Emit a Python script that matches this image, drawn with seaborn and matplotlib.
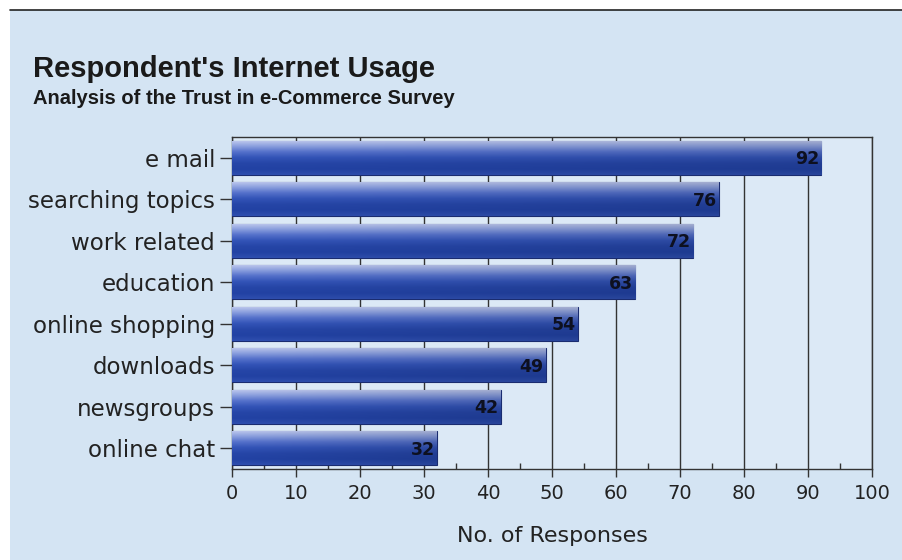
import numpy as np
import pandas as pd
import matplotlib
matplotlib.use("Agg")
import matplotlib.pyplot as plt
from matplotlib.colors import LinearSegmentedColormap
from matplotlib.patches import Rectangle
from matplotlib.lines import Line2D
import seaborn as sns

categories = ["e mail", "searching topics", "work related", "education",
              "online shopping", "downloads", "newsgroups", "online chat"]
responses = [92, 76, 72, 63, 54, 49, 42, 32]
x_ticks = [0, 10, 20, 30, 40, 50, 60, 70, 80, 90, 100]

df = pd.DataFrame({"usage": categories, "responses": responses})

sns.set_theme(style="white")
plt.rcParams["font.family"] = ["Liberation Sans", "DejaVu Sans"]

panel = "#d4e4f3"
fig = plt.figure(figsize=(9.02, 5.6), dpi=100, facecolor="white")
fig.patches.append(Rectangle((0.011, 0.0), 0.989, 0.982, transform=fig.transFigure,
                             facecolor=panel, edgecolor="none", zorder=-10))
fig.lines.append(Line2D([0.011, 1.0], [0.982, 0.982], transform=fig.transFigure,
                        color="#222222", lw=1.2))

ax = fig.add_axes([0.257, 0.1625, 0.710, 0.5925])
ax.set_facecolor("#dce9f6")

sns.barplot(data=df, y="usage", x="responses", orient="h", ax=ax,
            color="#2c4cb2", width=0.82, edgecolor="#1a2c70", linewidth=0.8,
            zorder=3)

ax.set_xlim(0, 100)
ax.set_xticks(x_ticks)
ax.set_xticks(np.arange(5, 100, 10), minor=True)
ax.grid(axis="x", which="major", color="#333333", lw=1.0, zorder=1)
ax.set_axisbelow(True)

# Shade each bar with a gradient clipped to its own rectangle
cmap = LinearSegmentedColormap.from_list(
    "barshade", ["#c4cdef", "#8ea2e0", "#5672cc", "#3354b8", "#2646a8", "#2242a4", "#2f4fb0"])
grad = np.linspace(0, 1, 256).reshape(-1, 1)
horiz = np.linspace(1.0, 0.88, 256).reshape(1, -1)
for bar in ax.patches:
    x0, y0 = bar.get_x(), bar.get_y()
    w, h = bar.get_width(), bar.get_height()
    rgba = cmap(grad)[:, :, :3] * np.ones((1, 256, 1))
    rgba = rgba * horiz[..., None]
    im = ax.imshow(rgba, extent=(x0, x0 + w, y0 + h, y0), aspect="auto",
                   origin="upper", zorder=3.5, interpolation="bilinear")
    im.set_clip_path(bar)

for bar, val in zip(ax.patches, responses):
    ax.text(bar.get_x() + bar.get_width() - 0.3, bar.get_y() + bar.get_height() / 2 + 0.03,
            f"{val}", ha="right", va="center", fontsize=12.5, fontweight="bold",
            family="DejaVu Sans", color="#0d1020", zorder=5)

ax.set_ylim(len(categories) - 0.5, -0.5)
ax.set_ylabel("")
ax.set_xlabel("No. of Responses", fontsize=16, color="#222222", labelpad=16,
              family="DejaVu Sans")

for side in ["top", "right", "left", "bottom"]:
    ax.spines[side].set_visible(True)
    ax.spines[side].set_color("#333333")
    ax.spines[side].set_linewidth(1.0)

ax.tick_params(axis="y", which="major", left=True, length=9, width=1,
               color="#333333", labelsize=16.5, labelcolor="#222222", pad=3)
ax.tick_params(axis="x", which="major", bottom=True, direction="out", length=6,
               width=1, color="#333333", labelsize=14, labelcolor="#222222", pad=5)
ax.tick_params(axis="x", which="minor", bottom=True, direction="in", length=4,
               width=1, color="#333333")
for lab in ax.get_yticklabels() + ax.get_xticklabels():
    lab.set_family("DejaVu Sans")

fig.text(0.037, 0.862, "Respondent's Internet Usage", fontsize=21, fontweight="bold",
         color="#1a1a1a")
fig.text(0.037, 0.815, "Analysis of the Trust in e-Commerce Survey", fontsize=14.5,
         fontweight="bold", color="#1a1a1a")

fig.savefig("out.png", dpi=100, facecolor=fig.get_facecolor())
